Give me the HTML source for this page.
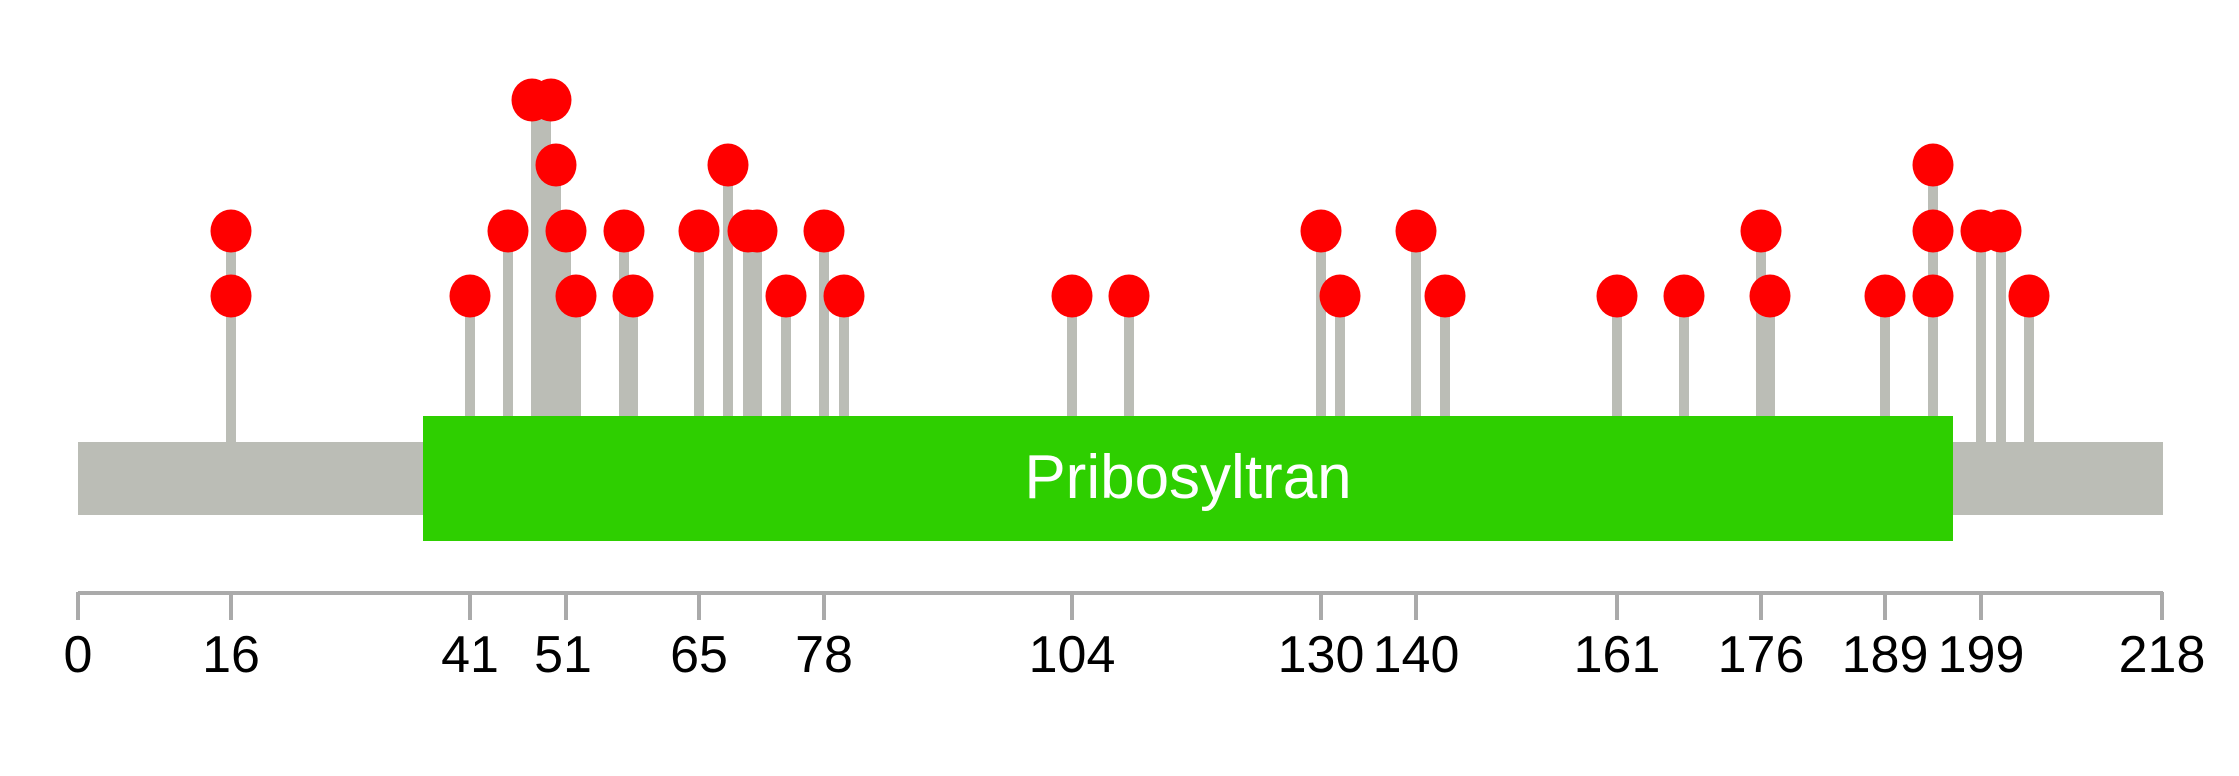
<!DOCTYPE html>
<html><head><style>html,body{margin:0;padding:0;background:#fff}svg{display:block}</style></head>
<body>
<svg width="2239" height="776" viewBox="0 0 2239 776" xmlns="http://www.w3.org/2000/svg">
<rect x="78" y="442" width="2085" height="73" fill="#BBBDB6"/>
<g stroke="#BBBDB6" stroke-width="10">
<line x1="231" y1="442" x2="231" y2="231"/>
<line x1="470" y1="416" x2="470" y2="296"/>
<line x1="508" y1="416" x2="508" y2="231"/>
<line x1="536" y1="416" x2="536" y2="100"/>
<line x1="546" y1="416" x2="546" y2="100"/>
<line x1="556" y1="416" x2="556" y2="165"/>
<line x1="566" y1="416" x2="566" y2="231"/>
<line x1="576" y1="416" x2="576" y2="296"/>
<line x1="624" y1="416" x2="624" y2="231"/>
<line x1="633" y1="416" x2="633" y2="296"/>
<line x1="699" y1="416" x2="699" y2="231"/>
<line x1="728" y1="416" x2="728" y2="165"/>
<line x1="748" y1="416" x2="748" y2="231"/>
<line x1="757" y1="416" x2="757" y2="231"/>
<line x1="786" y1="416" x2="786" y2="296"/>
<line x1="824" y1="416" x2="824" y2="231"/>
<line x1="844" y1="416" x2="844" y2="296"/>
<line x1="1072" y1="416" x2="1072" y2="296"/>
<line x1="1129" y1="416" x2="1129" y2="296"/>
<line x1="1321" y1="416" x2="1321" y2="231"/>
<line x1="1340" y1="416" x2="1340" y2="296"/>
<line x1="1416" y1="416" x2="1416" y2="231"/>
<line x1="1445" y1="416" x2="1445" y2="296"/>
<line x1="1617" y1="416" x2="1617" y2="296"/>
<line x1="1684" y1="416" x2="1684" y2="296"/>
<line x1="1761" y1="416" x2="1761" y2="231"/>
<line x1="1770" y1="416" x2="1770" y2="296"/>
<line x1="1885" y1="416" x2="1885" y2="296"/>
<line x1="1933" y1="416" x2="1933" y2="165"/>
<line x1="1981" y1="442" x2="1981" y2="231"/>
<line x1="2001" y1="442" x2="2001" y2="231"/>
<line x1="2029" y1="442" x2="2029" y2="296"/>
</g>
<rect x="423" y="416" width="1530" height="125" fill="#2ECF00"/>
<text x="1188" y="498" font-family="Liberation Sans, sans-serif" font-size="62" fill="#fff" text-anchor="middle">Pribosyltran</text>
<g fill="#FF0000">
<ellipse cx="231" cy="296" rx="20.5" ry="21.5"/><ellipse cx="231" cy="231" rx="20.5" ry="21.5"/>
<ellipse cx="470" cy="296" rx="20.5" ry="21.5"/>
<ellipse cx="508" cy="231" rx="20.5" ry="21.5"/>
<ellipse cx="532" cy="100" rx="20.5" ry="21.5"/><ellipse cx="551" cy="100" rx="20.5" ry="21.5"/>
<ellipse cx="556" cy="165" rx="20.5" ry="21.5"/>
<ellipse cx="566" cy="231" rx="20.5" ry="21.5"/>
<ellipse cx="576" cy="296" rx="20.5" ry="21.5"/>
<ellipse cx="624" cy="231" rx="20.5" ry="21.5"/>
<ellipse cx="633" cy="296" rx="20.5" ry="21.5"/>
<ellipse cx="699" cy="231" rx="20.5" ry="21.5"/>
<ellipse cx="728" cy="165" rx="20.5" ry="21.5"/>
<ellipse cx="748" cy="231" rx="20.5" ry="21.5"/><ellipse cx="757" cy="231" rx="20.5" ry="21.5"/>
<ellipse cx="786" cy="296" rx="20.5" ry="21.5"/>
<ellipse cx="824" cy="231" rx="20.5" ry="21.5"/>
<ellipse cx="844" cy="296" rx="20.5" ry="21.5"/>
<ellipse cx="1072" cy="296" rx="20.5" ry="21.5"/>
<ellipse cx="1129" cy="296" rx="20.5" ry="21.5"/>
<ellipse cx="1321" cy="231" rx="20.5" ry="21.5"/>
<ellipse cx="1340" cy="296" rx="20.5" ry="21.5"/>
<ellipse cx="1416" cy="231" rx="20.5" ry="21.5"/>
<ellipse cx="1445" cy="296" rx="20.5" ry="21.5"/>
<ellipse cx="1617" cy="296" rx="20.5" ry="21.5"/>
<ellipse cx="1684" cy="296" rx="20.5" ry="21.5"/>
<ellipse cx="1761" cy="231" rx="20.5" ry="21.5"/>
<ellipse cx="1770" cy="296" rx="20.5" ry="21.5"/>
<ellipse cx="1885" cy="296" rx="20.5" ry="21.5"/>
<ellipse cx="1933" cy="296" rx="20.5" ry="21.5"/><ellipse cx="1933" cy="231" rx="20.5" ry="21.5"/><ellipse cx="1933" cy="165" rx="20.5" ry="21.5"/>
<ellipse cx="1981" cy="231" rx="20.5" ry="21.5"/><ellipse cx="2001" cy="231" rx="20.5" ry="21.5"/>
<ellipse cx="2029" cy="296" rx="20.5" ry="21.5"/>
</g>
<g stroke="#AAAAAA" stroke-width="4">
<line x1="78" y1="593" x2="2163" y2="593"/>
<line x1="78" y1="592" x2="78" y2="620"/>
<line x1="231" y1="592" x2="231" y2="620"/>
<line x1="470" y1="592" x2="470" y2="620"/>
<line x1="566" y1="592" x2="566" y2="620"/>
<line x1="699" y1="592" x2="699" y2="620"/>
<line x1="824" y1="592" x2="824" y2="620"/>
<line x1="1072" y1="592" x2="1072" y2="620"/>
<line x1="1321" y1="592" x2="1321" y2="620"/>
<line x1="1416" y1="592" x2="1416" y2="620"/>
<line x1="1617" y1="592" x2="1617" y2="620"/>
<line x1="1761" y1="592" x2="1761" y2="620"/>
<line x1="1885" y1="592" x2="1885" y2="620"/>
<line x1="1981" y1="592" x2="1981" y2="620"/>
<line x1="2162" y1="592" x2="2162" y2="620"/>
</g>
<g font-family="Liberation Sans, sans-serif" font-size="52" fill="#000" text-anchor="middle">
<text x="78" y="672">0</text>
<text x="231" y="672">16</text>
<text x="470" y="672">41</text>
<text x="563" y="672">51</text>
<text x="699" y="672">65</text>
<text x="824" y="672">78</text>
<text x="1072" y="672">104</text>
<text x="1321" y="672">130</text>
<text x="1416" y="672">140</text>
<text x="1617" y="672">161</text>
<text x="1761" y="672">176</text>
<text x="1885" y="672">189</text>
<text x="1981" y="672">199</text>
<text x="2162" y="672">218</text>
</g>
</svg>
</body></html>
